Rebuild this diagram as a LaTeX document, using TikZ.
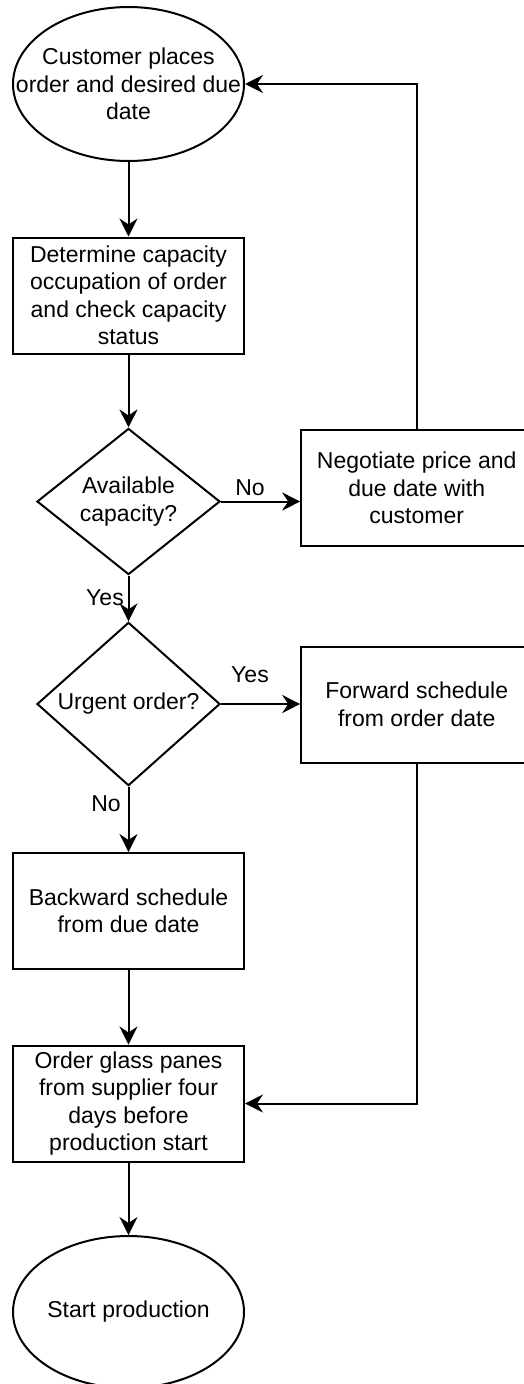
\documentclass[tikz,border=0pt]{standalone}
\usepackage{fontspec}
\setmainfont{Liberation Sans}
\usetikzlibrary{shapes.geometric,arrows.meta}
\begin{document}
\begin{tikzpicture}[x=1pt,y=-1pt,
  every node/.style={font=\fontsize{23}{27.5}\selectfont, align=center, inner sep=0pt},
  process/.style={draw, line width=2pt, minimum width=231pt, minimum height=116pt},
  terminal/.style={draw, ellipse, line width=2pt, minimum width=231pt, minimum height=154pt},
  decision/.style={draw, diamond, line width=2pt, minimum width=183pt, minimum height=143pt},
  flow/.style={line width=2pt, -{Stealth[length=18pt,width=18pt,inset=6pt]}},
  lbl/.style={font=\fontsize{23}{27.5}\selectfont}]
\useasboundingbox (0,0) rectangle (523,1384);

% terminals: fixed-size ellipses with the text set on top
\node[terminal] (start) at (128.5,84) {};
\node (starttext) at (start.center) {Customer places\\order and desired due\\date};
\node[process] (check) at (128.5,295.5) {Determine capacity\\occupation of order\\and check capacity\\status};
\node[decision] (avail) at (128.5,501.5) {Available\\capacity?};
\node[process] (nego) at (416.7,488) {Negotiate price and\\due date with\\customer};
\node[decision] (urgent) at (128.5,704) {Urgent order?};
\node[process] (fwd) at (416.7,704.5) {Forward schedule\\from order date};
\node[process] (bwd) at (128.5,911) {Backward schedule\\from due date};
\node[process] (glass) at (128.5,1103.5) {Order glass panes\\from supplier four\\days before\\production start};
\node[terminal, minimum height=152pt] (prod) at (128.5,1312) {};
\node (prodtext) at (prod.center) {Start production};

\draw[flow] (start) -- (check);
\draw[flow] (check) -- (avail);
\draw[flow] (avail.east) -- (avail.east -| nego.west);
\draw[flow] (nego.north) |- (start.east);
\draw[flow] (avail) -- (urgent);
\draw[flow] (urgent) -- (fwd.west |- urgent.east);
\draw[flow] (urgent) -- (bwd);
\draw[flow] (fwd.south) |- (glass.east);
\draw[flow] (bwd) -- (glass);
\draw[flow] (glass) -- (prod);

\node[lbl] (lno1) at (250,488) {No};
\node[lbl] (lyes1) at (105,598) {Yes};
\node[lbl] (lyes2) at (250,675) {Yes};
\node[lbl] (lno2) at (106,804) {No};
\end{tikzpicture}
\end{document}
